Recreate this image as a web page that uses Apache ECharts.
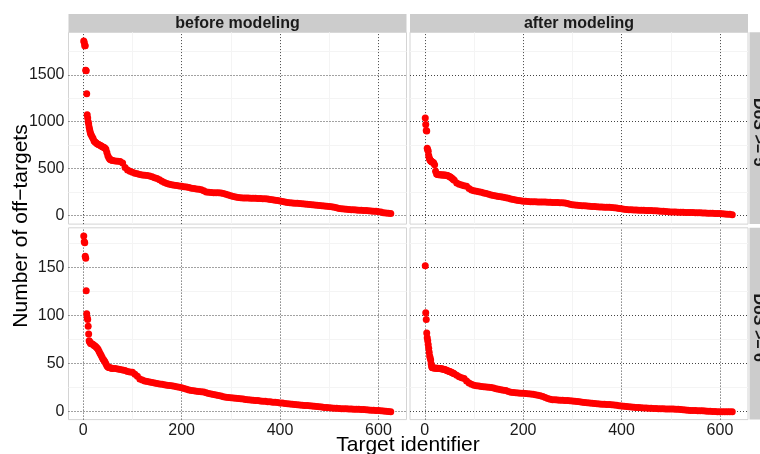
<!DOCTYPE html>
<html><head><meta charset="utf-8">
<script src="https://cdn.jsdelivr.net/npm/echarts@6/dist/echarts.min.js"></script>
<style>html,body{margin:0;padding:0;background:#fff}#c{width:760px;height:454px}</style>
</head><body><div id="c"></div>
<script>
// ---- data ----
const targetIds = [1,2,3,4,5,6,7,8,9,10,11,12,13,14,15,
16,18,20,22,24,26,28,30,32,34,36,38,40,42,44,46,48,50,52,54,56,58,60,
65,
70,75,80,85,90,95,100,105,110,115,
120,125,130,135,140,145,150,155,160,165,
170,175,180,185,190,195,200,205,210,215,
220,225,230,235,240,245,250,255,260,265,
270,275,280,285,290,295,300,305,310,315,
320,325,330,335,340,345,350,355,360,365,
370,375,380,385,390,395,400,405,410,415,
420,425,430,435,440,445,450,455,460,465,
470,475,480,485,490,495,500,505,510,515,
520,525,530,535,540,545,550,555,560,565,
570,575,580,585,590,595,600,605,610,615,
620,625];

// DoS >= 5, before modeling
const beforeDoS5 = [1862,1845,1812,1810,1550,1545,1298,1074,1040,1000,975,940,915,890,870,
860,840,820,795,782,775,765,760,755,748,742,736,730,725,718,705,670,635,615,600,594,588,585,
580,
578,575,560,510,485,470,460,450,445,435,
430,428,425,420,412,402,394,380,365,350,
340,333,327,322,318,314,310,306,303,298,
290,285,281,278,272,262,250,246,243,242,
241,240,238,232,225,216,208,202,196,190,
187,186,185,184,183,182,181,180,179,178,
176,173,170,166,162,157,152,147,142,138,
135,132,130,128,126,124,121,118,115,112,
110,108,106,103,100,97,94,91,86,80,
73,70,67,65,62,60,58,56,55,54,
52,50,48,46,44,42,38,34,28,24,
21,18];

// DoS >= 5, after modeling
const afterDoS5 = [1040,970,905,900,715,700,684,640,614,600,590,580,578,576,570,
566,562,540,470,440,435,434,433,432,431,431,430,430,429,428,425,420,415,408,401,392,383,375,
345,
332,325,316,310,285,270,262,258,252,245,
238,233,226,218,211,205,202,198,193,188,
182,175,169,164,159,155,151,149,147,146,
145,144,143,142,142,141,140,139,138,137,
136,135,134,131,125,119,114,110,107,105,
103,101,99,97,95,93,91,89,88,87,
86,85,84,82,78,73,69,65,62,60,
58,57,56,55,54,53,52,51,50,49,
48,46,44,42,40,37,36,35,34,33,
32,32,31,31,30,29,28,27,26,25,
24,23,22,21,20,19,18,16,14,12,
10,7];

// DoS >= 6, before modeling
const beforeDoS6 = [183,177,176,162,160,126,102,98,96,89,81,74,73,72,71,
71,70.5,70,69,68.5,67.5,66.5,65,63,61,59,57,55,53.5,52,50,48,46.5,46,45.7,45.5,45.3,45,
45,
44.5,44,43.5,43,42,41.5,41,39,37,34,
33,32,31.5,31,30.5,30,29.5,29,28.5,28,
27.5,27.2,27,26.5,26,25.5,25,24.3,23.5,22.7,
22.2,21.8,21.3,21,20.8,20.5,19.8,19,18.5,18,
17.5,17,16.3,15.7,15.2,14.8,14.5,14.2,14,13.8,
13.5,13.2,12.8,12.5,12.2,12,11.8,11.6,11.3,11,
10.8,10.5,10.3,10,9.8,9.5,9.2,9,8.7,8.4,
8.1,7.8,7.5,7.2,7,6.8,6.6,6.4,6.2,6,
5.7,5.4,5.1,4.8,4.5,4.3,4.1,3.9,3.7,3.5,
3.3,3.2,3.1,3,2.9,2.8,2.7,2.6,2.5,2.4,
2.2,2,1.8,1.6,1.5,1.4,1.2,1,0.8,0.5,
0.3,0];

// DoS >= 6, after modeling
const afterDoS6 = [152,103,96,82,77,74,70,66,62,58,56,54,50,47,46,
45.8,45.6,45.5,45.4,45.3,45.2,45.1,45,44.8,44.7,44.5,44.3,44,43.7,43.3,42.8,42.4,42,41.6,41.2,40.5,40,39.5,
38,
36.5,35.5,34.5,32,30,28.5,27.5,27,26.7,26.4,
26.1,25.8,25.5,25.2,24.8,24,23.3,22.8,22.4,22,
21.2,20.4,20,19.7,19.5,19.3,19.2,19,18.8,18.5,
18.1,17.6,17.1,16.6,15.8,14.8,13.8,13,12.6,12.4,
12.2,12,11.9,11.8,11.7,11.5,11.2,10.9,10.6,10.3,
10,9.7,9.4,9.1,8.8,8.5,8.3,8.1,7.9,7.7,
7.5,7.4,7.3,7,6.7,6.3,6,5.7,5.4,5.1,
4.9,4.7,4.5,4.3,4.1,3.9,3.8,3.6,3.5,3.4,
3.3,3.2,3.1,3,2.9,2.9,2.8,2.8,2.7,2.5,
2.2,2,1.8,1.6,1.4,1.3,1.2,1.1,1,0.9,
0.7,0.5,0.4,0.3,0.2,0.1,0,0,0,0,
0,0];

const colLabels = ['before modeling', 'after modeling'];
const rowLabels = ['DoS >= 5', 'DoS >= 6'];
const xTicks = [0, 200, 400, 600];
const xMinor = [100, 300, 500];
const yTicksTop = [0, 500, 1000, 1500];
const yMinorTop = [250, 750, 1250, 1750];
const yTicksBottom = [0, 50, 100, 150];
const yMinorBottom = [25, 75, 125, 175];

// ---- layout ----
const FONT = '"Liberation Sans", Arial, Helvetica, sans-serif';
const panelX = [68.5, 410];
const panelW = 338;
const panelY = [32.3, 227.8];
const panelH = 191.8;
const xRange = [-30, 657];
const yRanges = [[-94, 1955], [-8.2, 191.6]];

const panels = [
  {r: 0, c: 0, vals: beforeDoS5},
  {r: 0, c: 1, vals: afterDoS5},
  {r: 1, c: 0, vals: beforeDoS6},
  {r: 1, c: 1, vals: afterDoS6}
];

const majorStyle = {color: '#444444', width: 1, type: [1, 2]};
const minorStyle = {color: '#f4f4f4', width: 1, type: 'solid'};
const plain = v => String(v);

const grids = [], xAxes = [], yAxes = [], series = [];
panels.forEach((p, i) => {
  grids.push({left: panelX[p.c], top: panelY[p.r], width: panelW, height: panelH,
    show: true, backgroundColor: '#ffffff', borderColor: '#d4d4d4', borderWidth: 1, containLabel: false});
  const yT = p.r === 0 ? yTicksTop : yTicksBottom;
  const yM = p.r === 0 ? yMinorTop : yMinorBottom;
  xAxes.push({gridIndex: i, type: 'value', min: xRange[0], max: xRange[1],
    axisLine: {show: false}, axisTick: {show: false}, splitLine: {show: false},
    axisLabel: p.r === 1 ? {show: true, customValues: xTicks, formatter: plain, margin: 3, fontSize: 16, color: '#1a1a1a', fontFamily: FONT} : {show: false}});
  yAxes.push({gridIndex: i, type: 'value', min: yRanges[p.r][0], max: yRanges[p.r][1],
    axisLine: {show: false}, axisTick: {show: false}, splitLine: {show: false},
    axisLabel: p.c === 0 ? {show: true, customValues: yT, formatter: plain, margin: 4, fontSize: 16, color: '#1a1a1a', fontFamily: FONT} : {show: false}});
  const ml = [];
  xMinor.forEach(v => ml.push({xAxis: v, lineStyle: minorStyle}));
  yM.forEach(v => ml.push({yAxis: v, lineStyle: minorStyle}));
  xTicks.forEach(v => ml.push({xAxis: v, lineStyle: majorStyle}));
  yT.forEach(v => ml.push({yAxis: v, lineStyle: majorStyle}));
  series.push({
    type: 'scatter', xAxisIndex: i, yAxisIndex: i, z: 3,
    symbol: 'circle', symbolSize: 7,
    itemStyle: {color: '#ff0000', opacity: 1},
    data: targetIds.map((id, k) => [id, p.vals[k]]),
    markLine: {silent: true, symbol: ['none', 'none'], label: {show: false}, z: 1,
      animation: false, emphasis: {disabled: true}, data: ml}
  });
});

const graphics = [];
colLabels.forEach((t, c) => {
  graphics.push({type: 'rect', shape: {x: panelX[c], y: 14, width: panelW, height: 18.3}, style: {fill: '#cccccc'}});
  graphics.push({type: 'text', x: panelX[c] + panelW / 2, y: 23.4,
    style: {text: t, font: 'bold 16px ' + FONT, fill: '#1a1a1a', align: 'center', verticalAlign: 'middle'}});
});
rowLabels.forEach((t, r) => {
  graphics.push({type: 'rect', shape: {x: 749.5, y: panelY[r], width: 20, height: panelH}, style: {fill: '#cccccc'}});
  graphics.push({type: 'text', x: 758.5, y: panelY[r] + panelH / 2 + 4, rotation: -Math.PI / 2,
    style: {text: t, font: 'bold 16px ' + FONT, fill: '#1a1a1a', align: 'center', verticalAlign: 'middle'}});
});
graphics.push({type: 'text', x: 21, y: 226, rotation: Math.PI / 2,
  style: {text: 'Number of off\u2212targets', font: '21px ' + FONT, fill: '#000000', align: 'center', verticalAlign: 'middle'}});
graphics.push({type: 'text', x: 408, y: 445,
  style: {text: 'Target identifier', font: '21px ' + FONT, fill: '#000000', align: 'center', verticalAlign: 'middle'}});

const chart = echarts.init(document.getElementById('c'), null, {renderer: 'canvas'});
chart.setOption({
  animation: false,
  backgroundColor: '#ffffff',
  grid: grids, xAxis: xAxes, yAxis: yAxes, series: series,
  graphic: {elements: graphics}
});
</script></body></html>
